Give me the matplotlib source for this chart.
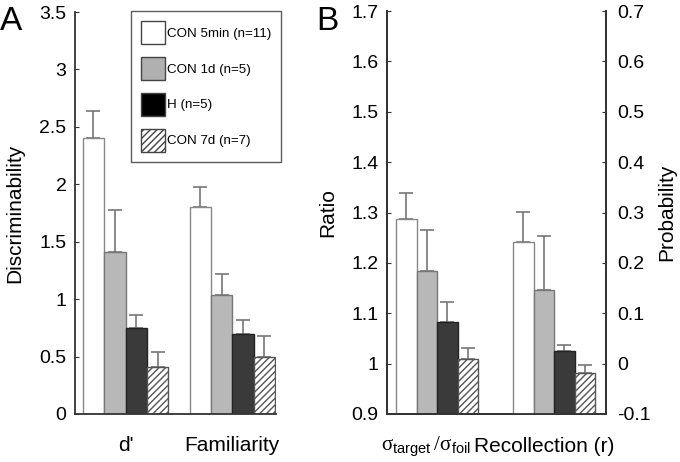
import matplotlib
matplotlib.use('Agg')
import matplotlib.pyplot as plt
import numpy as np
from matplotlib.patches import Patch

plt.rcParams['font.family'] = ['Liberation Sans', 'DejaVu Sans']
plt.rcParams['axes.unicode_minus'] = False
plt.rcParams['hatch.color'] = '#777777'
plt.rcParams['hatch.linewidth'] = 1.0
plt.rcParams['mathtext.fontset'] = 'custom'
plt.rcParams['mathtext.rm'] = 'Liberation Serif'
plt.rcParams['mathtext.sf'] = 'Liberation Sans'

groups = ['CON 5min (n=11)', 'CON 1d (n=5)', 'H (n=5)', 'CON 7d (n=7)']

# panel A: discriminability (d', familiarity)
a_labels = ["d'", 'Familiarity']
a_means = [[2.40, 1.80],   # CON 5min
           [1.41, 1.04],   # CON 1d
           [0.75, 0.70],   # H
           [0.41, 0.50]]   # CON 7d
a_err = [[0.24, 0.18],
         [0.37, 0.18],
         [0.11, 0.12],
         [0.13, 0.18]]

# panel B: sigma ratio (left axis) and recollection probability (right axis)
b_ratio = [1.287, 1.184, 1.083, 1.009]
b_ratio_err = [0.052, 0.081, 0.039, 0.021]
b_recoll = [0.242, 0.146, 0.026, -0.018]
b_recoll_err = [0.059, 0.108, 0.011, 0.015]

faces = ['white', '#b8b8b8', '#3a3a3a', 'white']
edges = ['#888888', '#777777', '#222222', '#555555']
hatches = [None, None, None, '/////']
legend_faces = ['white', '#b0b0b0', 'black', 'white']

fig = plt.figure(figsize=(6.8, 4.62), dpi=100)
axA = fig.add_axes([0.110, 0.104, 0.296, 0.870])
axB = fig.add_axes([0.569, 0.104, 0.322, 0.872])

err_kw = dict(ecolor='#777777', elinewidth=1.2, capsize=4.7, capthick=1.2)
spine_c = '#333333'

# ---- A ----
centers_a = np.array([0, 5])
for i in range(4):
    xs = centers_a + (i - 1.5)
    axA.bar(xs, a_means[i], width=1.0, color=faces[i], edgecolor=edges[i],
            linewidth=1.0, hatch=hatches[i], zorder=2)
    axA.errorbar(xs, a_means[i], yerr=[[0, 0], a_err[i]], fmt='none', zorder=1, **err_kw)
axA.set_xlim(-2.375, 7.05)
axA.set_ylim(0, 3.5)
axA.set_yticks(np.arange(0, 3.51, 0.5))
axA.set_yticklabels(['%g' % v for v in np.arange(0, 3.51, 0.5)])
axA.set_xticks(centers_a)
axA.set_xticklabels(a_labels, fontsize=15)
axA.tick_params(axis='x', length=0, pad=16)
axA.tick_params(axis='y', direction='in', length=3, labelsize=14, pad=6, color=spine_c)
for s in ['top', 'right']:
    axA.spines[s].set_visible(False)
for s in ['left', 'bottom']:
    axA.spines[s].set_color(spine_c)
    axA.spines[s].set_linewidth(1.3)
axA.set_ylabel('Discriminability', fontsize=15)
axA.yaxis.set_label_coords(-0.25, 0.5)

handles = [Patch(facecolor=legend_faces[i], edgecolor='#444444', hatch=hatches[i], linewidth=1.0)
           for i in range(4)]
leg = fig.legend(handles, groups, loc='upper left', bbox_to_anchor=(131 / 680, 1 - 11 / 462),
                 fontsize=9.6, frameon=True, fancybox=False, handlelength=1.8, handleheight=2.3,
                 handletextpad=0.15, labelspacing=0.95, borderpad=0.75, borderaxespad=0)
leg.get_frame().set_edgecolor('#333333')
leg.get_frame().set_linewidth(1.0)

# ---- B ----
centers_b = np.array([0, 5.68])
axB2 = axB.twinx()
for i in range(4):
    axB.bar(centers_b[0] + (i - 1.5), b_ratio[i] - 0.9, bottom=0.9, width=1.0, color=faces[i],
            edgecolor=edges[i], linewidth=1.0, hatch=hatches[i], zorder=2)
    axB.errorbar(centers_b[0] + (i - 1.5), b_ratio[i], yerr=[[0], [b_ratio_err[i]]],
                 fmt='none', zorder=1, **err_kw)
    axB2.bar(centers_b[1] + (i - 1.5), b_recoll[i] + 0.1, bottom=-0.1, width=1.0, color=faces[i],
             edgecolor=edges[i], linewidth=1.0, hatch=hatches[i], zorder=2)
    axB2.errorbar(centers_b[1] + (i - 1.5), b_recoll[i], yerr=[[0], [b_recoll_err[i]]],
                  fmt='none', zorder=1, **err_kw)
axB.set_xlim(-2.44, 8.19)
axB.set_ylim(0.9, 1.7)
rt = np.round(np.arange(0.9, 1.71, 0.1), 1)
axB.set_yticks(rt)
axB.set_yticklabels(['%g' % v for v in rt])
pt = np.round(np.arange(-0.1, 0.71, 0.1), 1)
axB2.set_ylim(-0.1, 0.7)
axB2.set_yticks(pt)
axB2.set_yticklabels(['%g' % v for v in pt])
axB.set_xticks([])
axB.tick_params(axis='y', direction='in', length=3, labelsize=14, pad=6, color=spine_c)
axB2.tick_params(axis='y', direction='in', length=3, labelsize=14, pad=8, color=spine_c)
for ax in (axB, axB2):
    ax.spines['top'].set_visible(False)
    for s in ['left', 'right', 'bottom']:
        ax.spines[s].set_color(spine_c)
        ax.spines[s].set_linewidth(1.3)
axB.set_ylabel('Ratio', fontsize=15)
axB.yaxis.set_label_coords(-0.225, 0.5)
axB2.set_ylabel('Probability', fontsize=15)
axB2.yaxis.set_label_coords(1.235, 0.5)

tr = axB.get_xaxis_transform()
axB.text(-0.55, -0.082, r'$\mathrm{\sigma}_{\mathsf{target}}\,/\mathrm{\sigma}_{\mathsf{foil}}$',
         transform=tr, fontsize=15, ha='center', va='center')
axB.text(5.18, -0.082, 'Recollection (r)', transform=tr, fontsize=15, ha='center', va='center')

fig.text(0.0, 1 - 21 / 462, 'A', fontsize=24, ha='left', va='center')
fig.text(316 / 680, 1 - 21 / 462, 'B', fontsize=24, ha='left', va='center')

fig.savefig('out.png', dpi=100)
